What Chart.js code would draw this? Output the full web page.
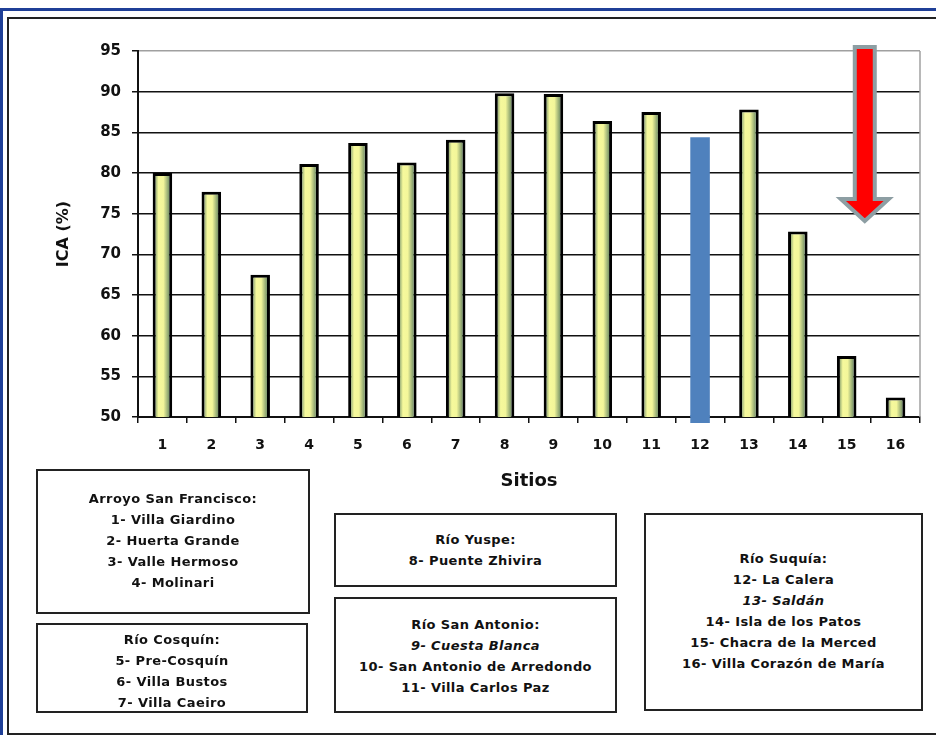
<!DOCTYPE html>
<html>
<head>
<meta charset="utf-8">
<script src="https://cdn.jsdelivr.net/npm/chart.js@4.4.1/dist/chart.umd.min.js"></script>
<style>
    body { margin: 0; background: #fff; overflow: hidden; width: 936px; height: 735px; position: relative; font-family: "DejaVu Sans", sans-serif; }
    #blue { position: absolute; left: 0; top: 8px; width: 940px; height: 730px; border-top: 3px solid #1f3f97; border-left: 3px solid #1f3f97; }
    #frame { position: absolute; left: 7px; top: 17px; width: 940px; height: 714px; border: 2px solid #222; }
    #mycanvas { position: absolute; left: 0; top: 0; }
    .box { position: absolute; border: 2px solid #222; box-sizing: border-box; text-align: center;
           font-weight: bold; font-size: 13px; letter-spacing: 0.4px; line-height: 21px; color: #111; }
</style>
</head>
<body>
<div id="blue"></div>
<div id="frame"></div>
<canvas id="mycanvas" width="936" height="500"></canvas>

<div class="box" style="left:36px; top:469px; width:274px; height:145px; padding-top:17px;">
    Arroyo San Francisco:<br>1- Villa Giardino<br>2- Huerta Grande<br>3- Valle Hermoso<br>4- Molinari
</div>
<div class="box" style="left:36px; top:623px; width:272px; height:90px; padding-top:4px;">
    Río Cosquín:<br>5- Pre-Cosquín<br>6- Villa Bustos<br>7- Villa Caeiro
</div>
<div class="box" style="left:334px; top:513px; width:283px; height:74px; padding-top:14px;">
    Río Yuspe:<br>8- Puente Zhivira
</div>
<div class="box" style="left:334px; top:597px; width:283px; height:116px; padding-top:15px;">
    Río San Antonio:<br><i>9- Cuesta Blanca</i><br>10- San Antonio de Arredondo<br>11- Villa Carlos Paz
</div>
<div class="box" style="left:644px; top:513px; width:279px; height:198px; padding-top:33px;">
    Río Suquía:<br>12- La Calera<br><i>13- Saldán</i><br>14- Isla de los Patos<br>15- Chacra de la Merced<br>16- Villa Corazón de María
</div>

<script>
// data
var sitios = ["1", "2", "3", "4", "5", "6", "7", "8", "9", "10", "11", "12", "13", "14", "15", "16"];
var ica = [80.0, 77.7, 67.5, 81.1, 83.7, 81.3, 84.1, 89.8, 89.7, 86.4, 87.5, 84.4, 87.8, 72.8, 57.5, 52.4];
var yMin = 50, yMax = 95, yStep = 5;
var destacado = 11;                         // bar 12 drawn in blue
var flecha = { x: 14.37, desde: 95.5, hasta: 74.1 };   // red arrow, in axis units

var BAR_PCT = 0.4;
var fuente = "'DejaVu Sans', sans-serif";

function barFill(c) {
    var chart = c.chart;
    if (c.dataIndex === destacado) return "#4f81bd";
    if (!chart.chartArea || !chart.scales.x) return "#f4f79a";
    var xs = chart.scales.x;
    var cx = xs.getPixelForValue(c.dataIndex);
    var half = xs.width / sitios.length * BAR_PCT / 2;
    var g = chart.ctx.createLinearGradient(cx - half, 0, cx + half, 0);
    g.addColorStop(0, "#3e6652");
    g.addColorStop(0.3, "#f6f99c");
    g.addColorStop(0.55, "#f3f69a");
    g.addColorStop(1, "#3a6350");
    return g;
}

var extras = {
    id: "extras",
    afterDraw: function (chart) {
        var ctx = chart.ctx;
        var a = chart.chartArea;
        var xs = chart.scales.x, ys = chart.scales.y;
        ctx.save();
        // right border of plot area
        ctx.strokeStyle = "#a0a0a0";
        ctx.lineWidth = 1.5;
        ctx.beginPath();
        ctx.moveTo(a.right, a.top);
        ctx.lineTo(a.right, a.bottom);
        ctx.stroke();

        // blue bar runs a little below the axis
        var w = xs.width / sitios.length * BAR_PCT;
        var bx = xs.getPixelForValue(destacado);
        var by = ys.getPixelForValue(yMin);
        ctx.fillStyle = "#4f81bd";
        ctx.fillRect(bx - w / 2, by - 2, w, 8);

        // red arrow
        var x = xs.getPixelForValue(flecha.x);
        var y0 = ys.getPixelForValue(flecha.desde);
        var y1 = ys.getPixelForValue(flecha.hasta);
        var sw = 10, hw = 24, hh = 22;
        ctx.beginPath();
        ctx.moveTo(x - sw, y0);
        ctx.lineTo(x + sw, y0);
        ctx.lineTo(x + sw, y1 - hh);
        ctx.lineTo(x + hw, y1 - hh);
        ctx.lineTo(x, y1);
        ctx.lineTo(x - hw, y1 - hh);
        ctx.lineTo(x - sw, y1 - hh);
        ctx.closePath();
        ctx.fillStyle = "#ff0000";
        ctx.fill();
        ctx.lineJoin = "miter";
        ctx.strokeStyle = "#8d9ea3";
        ctx.lineWidth = 4;
        ctx.stroke();
        ctx.restore();
    }
};

var data = {
    labels: sitios,
    datasets: [
        {
            label: "ICA",
            data: ica,
            backgroundColor: barFill,
            borderColor: "#000",
            borderWidth: function (c) { return c.dataIndex === destacado ? 0 : 3; },
            borderSkipped: false,
            barPercentage: BAR_PCT,
            categoryPercentage: 1
        }
    ]
};

var options = {
    responsive: false,
    animation: false,
    layout: { padding: { top: 51, left: 0, right: 16, bottom: 0 } },
    plugins: {
        legend: { display: false },
        tooltip: { enabled: false }
    },
    scales: {
        x: {
            afterFit: function (s) { s.height = 83; },
            grid: { drawOnChartArea: false, drawTicks: true, tickLength: 6, color: "#111", lineWidth: 1.5 },
            border: { color: "#111", width: 2 },
            ticks: { color: "#111", padding: 14, font: { family: fuente, size: 14, weight: "bold" } },
            title: {
                display: true, text: "Sitios", color: "#111",
                padding: { top: 0, bottom: 8 },
                font: { family: fuente, size: 18, weight: "bold" }
            }
        },
        y: {
            min: yMin, max: yMax,
            afterFit: function (s) { s.width = 138; },
            grid: {
                color: function (c) { return c.tick && c.tick.value === yMax ? "#a0a0a0" : "#111"; },
                tickColor: "#111",
                lineWidth: 1.5,
                tickLength: 6
            },
            border: { color: "#111", width: 2 },
            ticks: { stepSize: yStep, color: "#111", padding: 11, font: { family: fuente, size: 15, weight: "bold" } },
            title: {
                display: true, text: "ICA (%)", color: "#111",
                padding: { top: 54, bottom: 0 },
                font: { family: fuente, size: 16, weight: "bold" }
            }
        }
    }
};

var chart = new Chart(document.getElementById("mycanvas"), {
    type: "bar",
    data: data,
    options: options,
    plugins: [extras]
});
</script>
</body>
</html>
